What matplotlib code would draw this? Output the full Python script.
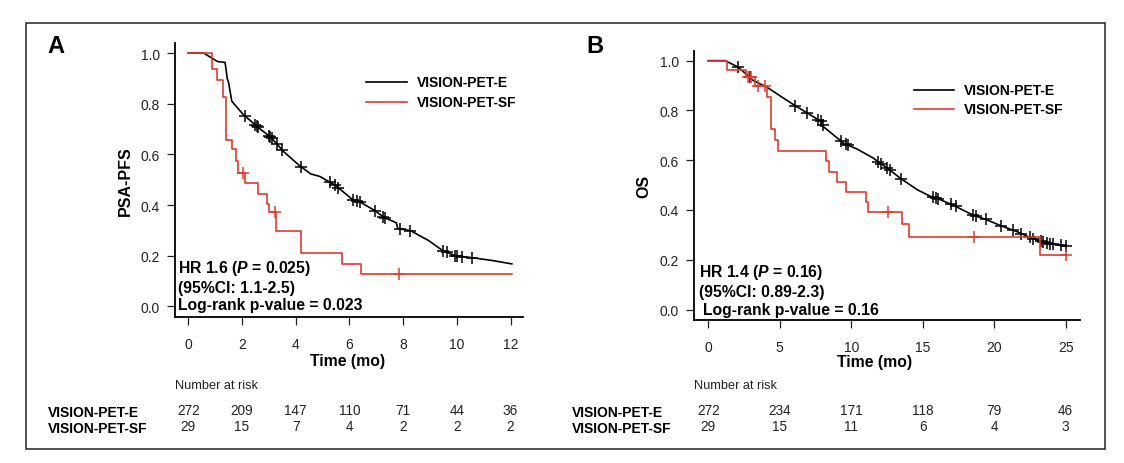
import numpy as np
import matplotlib
matplotlib.use("Agg")
import matplotlib.pyplot as plt
from matplotlib.transforms import blended_transform_factory
from matplotlib.patches import Rectangle

plt.rcParams['font.family'] = ['Liberation Sans', 'DejaVu Sans']
plt.rcParams['mathtext.fontset'] = 'custom'
plt.rcParams['mathtext.it'] = 'Liberation Sans:italic:bold'
plt.rcParams['mathtext.rm'] = 'Liberation Sans:bold'

W, H = 1124, 464
RED = '#e23a2e'

# ---- panel A: PSA-PFS ----
a_e_t = [0, 0.57, 0.83, 1.10, 1.37, 1.45, 1.50, 1.62, 1.70, 2.05, 2.6, 3.1, 3.54, 4.15, 4.56,
         4.9, 5.49, 6.09, 6.42, 6.95, 7.28, 7.75, 7.8, 8.28, 8.95, 9.48, 9.95, 10.6, 11.34, 12.05]
a_e_s = [1.0, 1.0, 0.983, 0.966, 0.963, 0.90, 0.884, 0.81, 0.80, 0.757, 0.707, 0.665, 0.612, 0.555, 0.523,
         0.513, 0.477, 0.424, 0.411, 0.378, 0.352, 0.33, 0.308, 0.299, 0.26, 0.22, 0.20, 0.192, 0.181, 0.168]
a_e_cens = [2.1, 2.5, 2.55, 2.6, 3.0, 3.05, 3.1, 3.3, 3.5, 4.2, 5.27, 5.46, 5.58, 6.14, 6.28, 6.39,
            6.95, 7.25, 7.32, 7.88, 8.25, 9.49, 9.63, 9.93, 10.0, 10.2, 10.57]

a_sf_t = [0, 0.88, 1.08, 1.30, 1.40, 1.63, 1.77, 1.86, 2.1, 2.6, 2.92, 3.0, 3.27, 4.2, 5.71, 6.42]
a_sf_s = [1.0, 0.937, 0.893, 0.825, 0.655, 0.621, 0.575, 0.525, 0.487, 0.444, 0.405, 0.371, 0.299,
          0.212, 0.169, 0.127]
a_sf_end = 12.05
a_sf_cens = [2.03, 3.23, 7.85]

a_risk_t = [0, 2, 4, 6, 8, 10, 12]
a_risk_e = [272, 209, 147, 110, 71, 44, 36]
a_risk_sf = [29, 15, 7, 4, 2, 2, 2]

# ---- panel B: OS ----
b_e_t = [0, 1.17, 2.1, 3.15, 4.08, 6.1, 7.0, 7.85, 8.04, 9.5, 10.4, 11.5, 12.4, 13.5, 14.6, 15.6,
         16.0, 17.1, 18.5, 19.5, 20.5, 21.6, 22.6, 23.7, 25.0]
b_e_s = [1.0, 1.0, 0.974, 0.92, 0.894, 0.818, 0.787, 0.757, 0.735, 0.667, 0.645, 0.61, 0.573, 0.525,
         0.482, 0.453, 0.447, 0.42, 0.38, 0.36, 0.336, 0.313, 0.287, 0.267, 0.255]
b_e_cens = [2.1, 2.9, 6.06, 6.9, 7.7, 7.85, 8.0, 9.3, 9.6, 9.8, 11.9, 12.1, 12.5, 12.7, 13.5, 15.7,
            15.9, 16.05, 17.0, 17.3, 18.5, 18.7, 19.4, 20.5, 21.3, 21.9, 22.5, 22.7, 23.3, 23.4, 23.7,
            23.9, 24.1, 24.7, 25.0]

b_sf_t = [0, 1.29, 2.63, 3.27, 4.1, 4.4, 4.65, 4.9, 8.25, 8.42, 9.02, 9.62, 11.05, 11.2, 13.55, 14.03, 23.2]
b_sf_s = [1.0, 0.964, 0.933, 0.90, 0.853, 0.727, 0.68, 0.638, 0.596, 0.553, 0.513, 0.473, 0.433, 0.391,
          0.342, 0.292, 0.22]
b_sf_end = 25.05
b_sf_cens = [2.75, 3.0, 3.5, 4.0, 12.6, 18.6, 25.05]

b_risk_t = [0, 5, 10, 15, 20, 25]
b_risk_e = [272, 234, 171, 118, 79, 46]
b_risk_sf = [29, 15, 11, 6, 4, 3]


def fx(x):
    return x / W


def fy(y):
    return 1 - y / H


def step_at(t, s, x):
    idx = np.searchsorted(t, x, side='right') - 1
    return np.asarray(s)[idx]


def km_panel(rect, xlim, xticks, e_t, e_s, e_cens, sf_t, sf_s, sf_end, sf_cens, ylabel):
    l, r, top, bot = rect
    ax = fig.add_axes([fx(l), fy(bot), fx(r - l), (bot - top) / H])
    ax.set_xlim(*xlim)
    ax.set_ylim(-0.04, 1.04)
    for sp in ['top', 'right']:
        ax.spines[sp].set_visible(False)
    for sp in ['left', 'bottom']:
        ax.spines[sp].set_linewidth(1.3)
    ax.set_xticks(xticks)
    ax.set_yticks([0, 0.2, 0.4, 0.6, 0.8, 1.0])
    ax.set_yticklabels(['0.0', '0.2', '0.4', '0.6', '0.8', '1.0'])
    ax.tick_params(axis='x', length=6, width=0.9, pad=9, labelsize=10, colors='#222222')
    ax.tick_params(axis='y', length=6, width=0.9, pad=5, labelsize=10, colors='#222222')
    ax.set_ylabel(ylabel, fontsize=11.5, fontweight='bold', labelpad=6)

    ax.plot(e_t, e_s, color='black', lw=1.2)
    ax.plot(e_cens, np.interp(e_cens, e_t, e_s), ls='none', marker='+', ms=8, mew=1.1, color='black')
    ax.step(list(sf_t) + [sf_end], list(sf_s) + [sf_s[-1]], where='post', color=RED, lw=1.2)
    ax.plot(sf_cens, step_at(sf_t, sf_s, sf_cens), ls='none', marker='+', ms=8, mew=1.1, color=RED)
    return ax


fig = plt.figure(figsize=(W / 100, H / 100), dpi=100)
fig.add_artist(Rectangle((fx(26), fy(450)), fx(1105 - 26), (450 - 24) / H, transform=fig.transFigure,
                         fill=False, lw=1.2, edgecolor='#333333'))

axA = km_panel((175.4, 523.4, 43.9, 317.6), (-0.48, 12.48), a_risk_t, a_e_t, a_e_s, a_e_cens,
               a_sf_t, a_sf_s, a_sf_end, a_sf_cens, 'PSA-PFS')
axB = km_panel((694, 1080, 51.7, 320.5), (-1, 26), b_risk_t, b_e_t, b_e_s, b_e_cens,
               b_sf_t, b_sf_s, b_sf_end, b_sf_cens, 'OS')

fig.text(fx(47), fy(53), 'A', fontsize=17, fontweight='bold', va='baseline')
fig.text(fx(586), fy(53), 'B', fontsize=17, fontweight='bold', va='baseline')

# legends
for (x0, x1, xt, y1, y2) in [(366, 407, 417, 83, 103), (914, 954, 964, 91, 110)]:
    for y, c, lab in [(y1, 'black', 'VISION-PET-E'), (y2, RED, 'VISION-PET-SF')]:
        fig.add_artist(plt.Line2D([fx(x0), fx(x1)], [fy(y), fy(y)], color=c, lw=1.2,
                                  transform=fig.transFigure))
        fig.text(fx(xt), fy(y), lab, fontsize=10, fontweight='bold', va='center')

# annotations
def stats(x, ys, hr, p, ci, lr):
    fig.text(fx(x), fy(ys[0]), 'HR %s ($P$ = %s)' % (hr, p), fontsize=11.3,
             fontweight='bold', va='center')
    fig.text(fx(x), fy(ys[1]), '(95%%CI: %s)' % ci, fontsize=11.3, fontweight='bold', va='center')
    fig.text(fx(x + lr[0]), fy(ys[2]), 'Log-rank p-value = %s' % lr[1], fontsize=11.3,
             fontweight='bold', va='center')

stats(178, (269, 289, 305.5), '1.6', '0.025', '1.1-2.5', (0, '0.023'))
stats(699, (273, 292.5, 310), '1.4', '0.16', '0.89-2.3', (4, '0.16'))

# x titles and number at risk
for ax, xc, yl, tr, re, rs, xl in [(axA, 348, 362, a_risk_t, a_risk_e, a_risk_sf, 48),
                                   (axB, 875, 363, b_risk_t, b_risk_e, b_risk_sf, 572)]:
    fig.text(fx(xc), fy(yl), 'Time (mo)', fontsize=11.3, fontweight='bold', ha='center', va='center')
    trans = blended_transform_factory(ax.transData, fig.transFigure)
    fig.text(ax.get_position().x0, fy(386), 'Number at risk', fontsize=9.2, va='center', color='#222222')
    fig.text(fx(xl), fy(413), 'VISION-PET-E', fontsize=10, fontweight='bold', va='center')
    fig.text(fx(xl), fy(429), 'VISION-PET-SF', fontsize=10, fontweight='bold', va='center')
    for t, ne, ns in zip(tr, re, rs):
        ax.text(t, fy(411), str(ne), transform=trans, fontsize=9.8, ha='center', va='center', color='#222222')
        ax.text(t, fy(427.5), str(ns), transform=trans, fontsize=9.8, ha='center', va='center', color='#222222')

fig.savefig('out.png', dpi=100)
